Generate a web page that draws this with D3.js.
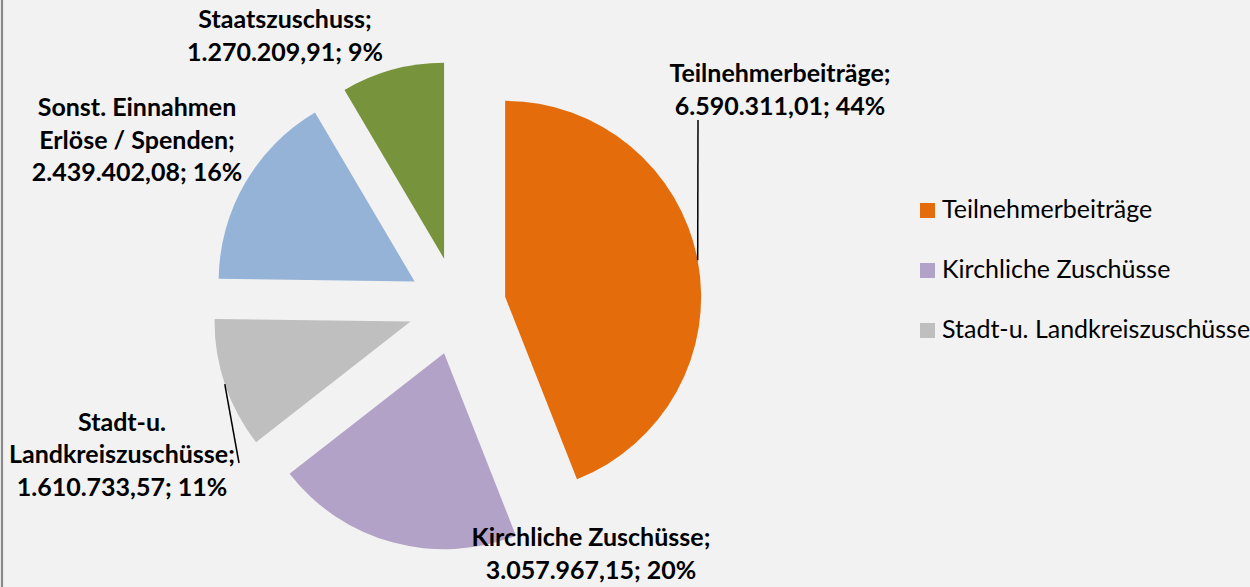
<!DOCTYPE html>
<html>
<head>
<meta charset="utf-8">
<script src="https://cdn.jsdelivr.net/npm/d3@7"></script>
<style>
  html, body { margin: 0; padding: 0; background: #f2f2f2; }
  svg { display: block; }
</style>
</head>
<body>
<svg id="chart" width="1250" height="587"></svg>
<script>
// ---- data ----
const categories = ["Teilnehmerbeiträge", "Kirchliche Zuschüsse", "Stadt-u. Landkreiszuschüsse", "Sonst. Einnahmen Erlöse / Spenden", "Staatszuschuss"];
const values = [6590311.01, 3057967.15, 1610733.57, 2439402.08, 1270209.91];
const valueLabels = ["6.590.311,01", "3.057.967,15", "1.610.733,57", "2.439.402,08", "1.270.209,91"];
const percentLabels = ["44%", "20%", "11%", "16%", "9%"];
const labelNameLines = [["Teilnehmerbeiträge;"], ["Kirchliche Zuschüsse;"], ["Stadt-u.", "Landkreiszuschüsse;"], ["Sonst. Einnahmen", "Erlöse / Spenden;"], ["Staatszuschuss;"]];
const legendItems = ["Teilnehmerbeiträge", "Kirchliche Zuschüsse", "Stadt-u. Landkreiszuschüsse"];
const colors = ["#e46c0a", "#b3a2c7", "#bfbfbf", "#95b3d7", "#77933c"];

// ---- layout ----
const W = 1250, H = 587;
const cx = 457, cy = 306, R = 196, explode = 49;
const lineH = 32.5;
// label anchor: x = center of text block, y = baseline of first line
const labelPos = [
  {x: 780, y: 82},
  {x: 591, y: 546},
  {x: 122, y: 430.5},
  {x: 137, y: 116},
  {x: 285, y: 28}
];
// leader line end (label side), null = no leader
const leaderEnds = [
  {x: 698, y: 120},
  null,
  {x: 239, y: 463},
  null,
  null
];

const svg = d3.select("#chart");
svg.append("rect").attr("width", W).attr("height", H).attr("fill", "#f2f2f2");
svg.append("line").attr("x1", 2).attr("x2", 2).attr("y1", 0).attr("y2", H)
  .attr("stroke", "#8a8a8a").attr("stroke-width", 2.2);

const pie = d3.pie().sort(null).value(d => d)(values);
const arc = d3.arc().innerRadius(0).outerRadius(R);

function offset(d, dist) {
  const a = (d.startAngle + d.endAngle) / 2;
  return [Math.sin(a) * dist, -Math.cos(a) * dist];
}

const g = svg.append("g").attr("transform", `translate(${cx},${cy})`);
g.selectAll("path.slice").data(pie).enter().append("path")
  .attr("class", "slice")
  .attr("d", arc)
  .attr("fill", (d, i) => colors[i])
  .attr("transform", d => { const o = offset(d, explode); return `translate(${o[0]},${o[1]})`; });

// leader lines
pie.forEach((d, i) => {
  const e = leaderEnds[i];
  if (!e) return;
  const o = offset(d, explode);
  const p = offset(d, R);
  svg.append("line")
    .attr("x1", cx + o[0] + p[0]).attr("y1", cy + o[1] + p[1])
    .attr("x2", e.x).attr("y2", e.y)
    .attr("stroke", "#000").attr("stroke-width", 1.5);
});

// data labels
const fontFam = "Lato, 'Open Sans', sans-serif";
pie.forEach((d, i) => {
  const lines = labelNameLines[i].concat([valueLabels[i] + "; " + percentLabels[i]]);
  const t = svg.append("text")
    .attr("text-anchor", "middle")
    .attr("font-family", fontFam)
    .attr("font-weight", "bold")
    .attr("font-size", 25)
    .attr("fill", "#000");
  lines.forEach((ln, j) => {
    t.append("tspan").attr("x", labelPos[i].x).attr("y", labelPos[i].y + j * lineH).text(ln);
  });
});

// legend
const lg = svg.append("g").attr("transform", "translate(920,218)");
legendItems.forEach((name, i) => {
  const row = lg.append("g").attr("transform", `translate(0,${i * 60})`);
  row.append("rect").attr("x", 0).attr("y", -15).attr("width", 15).attr("height", 15).attr("fill", colors[i]);
  row.append("text").attr("x", 22).attr("y", 0)
    .attr("font-family", fontFam).attr("font-size", 25).attr("fill", "#000")
    .text(name);
});
</script>
</body>
</html>
